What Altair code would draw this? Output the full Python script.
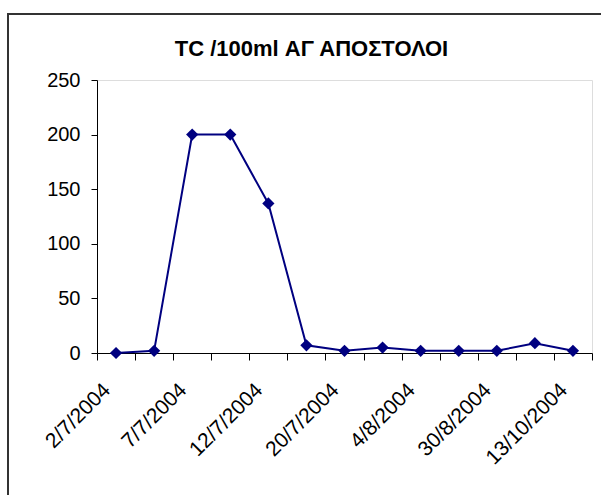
import json
import altair as alt
import pandas as pd

# Data
categories = list(range(13))
tick_labels = ["2/7/2004", "", "7/7/2004", "", "12/7/2004", "", "20/7/2004", "",
               "4/8/2004", "", "30/8/2004", "", "13/10/2004"]
values = [0, 2, 200, 200, 137, 7, 2, 5, 2, 2, 2, 9, 2]

df = pd.DataFrame({"idx": categories, "value": values})

FONT = "Liberation Sans"
NAVY = "#000080"

label_expr = json.dumps(tick_labels) + "[datum.value]"

x_enc = alt.X(
    "idx:O",
    bandPosition=0.5,
    scale=alt.Scale(type="band", paddingInner=0, paddingOuter=0),
    axis=alt.Axis(
        title=None,
        labelExpr=label_expr,
        labelAngle=-45,
        labelAlign="right",
        labelBaseline="top",
        labelOffset=-17,
        labelPadding=19,
        labelFont=FONT,
        labelFontSize=21,
        labelColor="#000000",
        labelOverlap=False,
        tickBand="extent",
        tickSize=7,
        tickColor="#000000",
        domainColor="#000000",
        grid=False,
    ),
)

y_enc = alt.Y(
    "value:Q",
    scale=alt.Scale(domain=[0, 250], nice=False, zero=True),
    axis=alt.Axis(
        title=None,
        values=[0, 50, 100, 150, 200, 250],
        tickSize=6,
        labelPadding=11,
        labelFont=FONT,
        labelFontSize=20,
        labelColor="#000000",
        tickColor="#000000",
        domainColor="#000000",
        grid=False,
    ),
)

line = alt.Chart(df).mark_line(
    color=NAVY,
    strokeWidth=2,
    point=alt.OverlayMarkDef(shape="diamond", size=150, filled=True, color=NAVY, opacity=1),
).encode(x=x_enc, y=y_enc)

frame = alt.Chart(df).mark_rect(
    fill=None, stroke="#333333", strokeWidth=2
).encode(
    x=alt.value(-89), x2=alt.value(530), y=alt.value(-66), y2=alt.value(600)
).transform_filter("datum.idx == 0")

chart = alt.layer(frame, line).properties(
    width=495,
    height=273,
    title=alt.TitleParams(
        "TC /100ml ΑΓ ΑΠΟΣΤΟΛΟΙ",
        font=FONT,
        fontSize=22,
        fontWeight="bold",
        color="#000000",
        anchor="middle",
        frame="group",
        dx=-33,
        dy=65,
        baseline="alphabetic",
        offset=0,
    ),
    autosize=alt.AutoSizeParams(type="none"),
    padding={"left": 97, "top": 80, "right": 9, "bottom": 142},
).configure_view(stroke=None).configure(background="white")

chart.save("out.html", embed_options={"renderer": "svg", "actions": False})
